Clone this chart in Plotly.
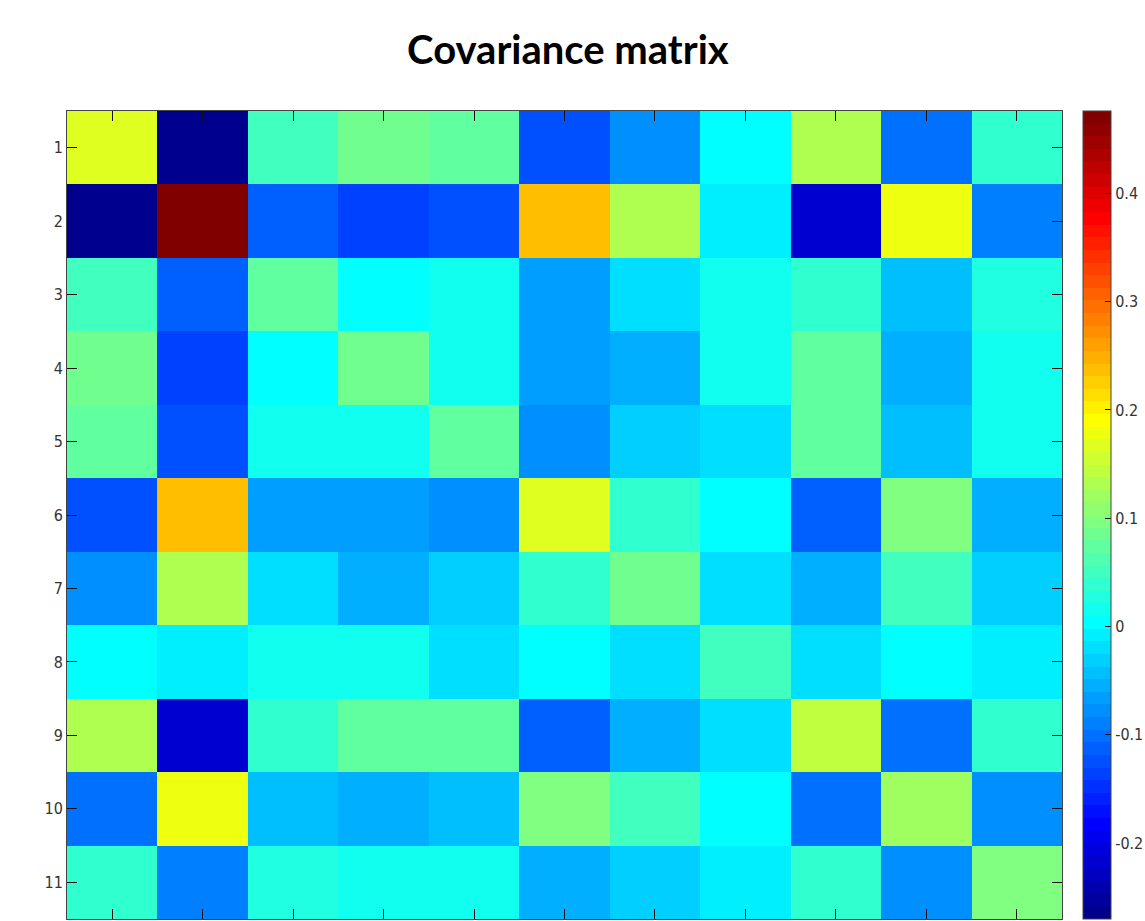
import plotly.graph_objects as go

# Variable indices for rows and columns
labels = list(range(1, 12))

# Covariance values, one list per row (symmetric matrix)
row1 = [0.167, -0.270, 0.051, 0.086, 0.075, -0.126, -0.079, 0.004, 0.135, -0.098, 0.042]
row2 = [-0.270, 0.476, -0.111, -0.135, -0.126, 0.237, 0.135, -0.007, -0.219, 0.180, -0.089]
row3 = [0.051, -0.111, 0.075, 0.004, 0.016, -0.065, -0.019, 0.016, 0.042, -0.042, 0.028]
row4 = [0.086, -0.135, 0.004, 0.086, 0.016, -0.065, -0.054, 0.016, 0.075, -0.054, 0.016]
row5 = [0.075, -0.126, 0.016, 0.016, 0.075, -0.079, -0.031, -0.019, 0.075, -0.042, 0.016]
row6 = [-0.126, 0.237, -0.065, -0.065, -0.079, 0.167, 0.044, 0.004, -0.111, 0.098, -0.054]
row7 = [-0.079, 0.135, -0.019, -0.054, -0.031, 0.044, 0.086, -0.019, -0.054, 0.051, -0.031]
row8 = [0.004, -0.007, 0.016, 0.016, -0.019, 0.004, -0.019, 0.051, -0.019, 0.004, -0.007]
row9 = [0.135, -0.219, 0.042, 0.075, 0.075, -0.111, -0.054, -0.019, 0.144, -0.098, 0.042]
row10 = [-0.098, 0.180, -0.042, -0.054, -0.042, 0.098, 0.051, 0.004, -0.098, 0.120, -0.079]
row11 = [0.042, -0.089, 0.028, 0.016, 0.016, -0.054, -0.031, -0.007, 0.042, -0.079, 0.098]

cov = [row1, row2, row3, row4, row5, row6, row7, row8, row9, row10, row11]

colorbar_ticks = [-0.2, -0.1, 0, 0.1, 0.2, 0.3, 0.4]
colorbar_text = ["-0.2", "-0.1", "0", "0.1", "0.2", "0.3", "0.4"]


def jet(t):
    r = min(max(1.5 - abs(4 * t - 3), 0), 1)
    g = min(max(1.5 - abs(4 * t - 2), 0), 1)
    b = min(max(1.5 - abs(4 * t - 1), 0), 1)
    return "rgb(%d,%d,%d)" % (round(r * 255), round(g * 255), round(b * 255))


# 64-level stepped jet colormap
levels = 64
jet_scale = []
for i in range(levels):
    c = jet((i + 1) / levels)
    jet_scale.append([i / levels, c])
    jet_scale.append([(i + 1) / levels, c])

tick_font = dict(family="Liberation Sans Narrow, DejaVu Sans Condensed, Arial Narrow", size=16, color="#333")

fig = go.Figure(
    go.Heatmap(
        z=cov,
        x=labels,
        y=labels,
        colorscale=jet_scale,
        colorbar=dict(
            x=1.0211,
            xanchor="left",
            xpad=0,
            y=0.5,
            yanchor="middle",
            len=1.0,
            lenmode="fraction",
            ypad=0,
            thickness=28,
            thicknessmode="pixels",
            outlinecolor="#444",
            outlinewidth=1,
            tickvals=colorbar_ticks,
            ticktext=colorbar_text,
            ticks="inside",
            ticklen=6,
            tickcolor="#111",
            tickfont=tick_font,
        ),
        hoverongaps=False,
    )
)

fig.update_layout(
    width=1145,
    height=921,
    margin=dict(l=67, r=83, t=111, b=2, autoexpand=False),
    paper_bgcolor="white",
    plot_bgcolor="white",
    title=dict(
        text="<b>Covariance matrix</b>",
        x=0.496,
        xanchor="center",
        y=0.946,
        yanchor="middle",
        font=dict(family="Lato, Open Sans, sans-serif", size=40, color="black"),
    ),
)

fig.update_xaxes(
    tickvals=labels,
    showticklabels=False,
    ticks="inside",
    ticklen=10,
    tickcolor="#111",
    showline=True,
    linecolor="#444",
    linewidth=1,
    mirror="ticks",
    showgrid=False,
    zeroline=False,
)
fig.update_yaxes(
    tickvals=labels,
    ticktext=[str(v) for v in labels],
    autorange="reversed",
    ticks="inside",
    ticklen=10,
    tickcolor="#111",
    tickfont=tick_font,
    showline=True,
    linecolor="#444",
    linewidth=1,
    mirror="ticks",
    showgrid=False,
    zeroline=False,
)

fig.write_html("out.html")
